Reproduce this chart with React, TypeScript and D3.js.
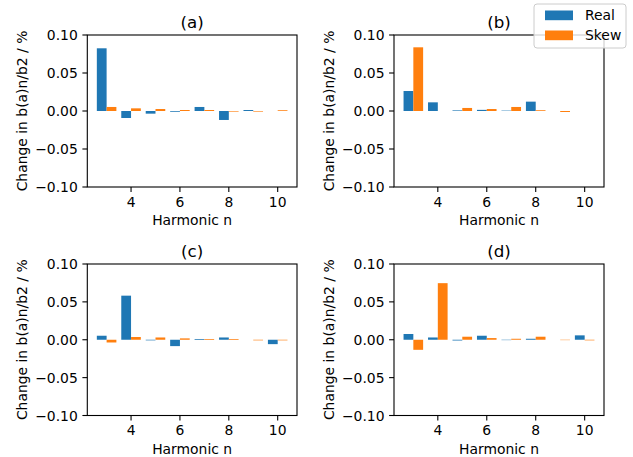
import React from "react";
import * as d3 from "d3";

const harmonics = [3, 4, 5, 6, 7, 8, 9, 10];
const seriesNames = ["Real", "Skew"];
const colors = ["#1f77b4", "#ff7f0e"];
const panelTitles = ["(a)", "(b)", "(c)", "(d)"];

const realA = [0.0825, -0.0092, -0.0035, -0.001, 0.0053, -0.0118, 0.0013, 0.0];
const skewA = [0.0053, 0.0035, 0.0026, 0.0013, 0.0013, -0.0008, -0.0008, 0.001];
const realB = [0.0263, 0.0114, 0.0008, 0.0015, 0.0005, 0.0123, 0.0, 0.0];
const skewB = [0.0838, 0.0, 0.004, 0.0026, 0.0053, 0.001, -0.0013, 0.0];
const realC = [0.0053, 0.0582, -0.0008, -0.0084, 0.001, 0.003, 0.0, -0.0058];
const skewC = [-0.0036, 0.0036, 0.003, 0.0018, 0.001, 0.001, -0.0008, -0.0008];
const realD = [0.0076, 0.003, -0.001, 0.0053, -0.0005, 0.0013, 0.0, 0.0058];
const skewD = [-0.0133, 0.0747, 0.004, 0.0022, 0.0013, 0.004, -0.0005, -0.0008];

const yTicks = [-0.1, -0.05, 0, 0.05, 0.1];
const xTicks = [4, 6, 8, 10];

const panelData = [
  [realA, skewA],
  [realB, skewB],
  [realC, skewC],
  [realD, skewD],
];

const FONT = "DejaVu Sans, sans-serif";
const FS = 13.9;

const boxes = [
  { x0: 87.3, x1: 297, y0: 35, y1: 187 },
  { x0: 394, x1: 604, y0: 35, y1: 187 },
  { x0: 87.3, x1: 297, y0: 264, y1: 415.5 },
  { x0: 394, x1: 604, y0: 264, y1: 415.5 },
];

function Panel({ idx }: { idx: number }) {
  const b = boxes[idx];
  const x = d3.scaleLinear().domain([2.21, 10.79]).range([b.x0, b.x1]);
  const y = d3.scaleLinear().domain([-0.1, 0.1]).range([b.y1, b.y0]);
  const bw = 0.4;
  const offsets = [-0.2, 0.2];
  const data = panelData[idx];
  const cx = (b.x0 + b.x1) / 2;
  const cy = (b.y0 + b.y1) / 2;
  return (
    <g>
      {data.map((vals, s) =>
        vals.map((v, i) => {
          const n = harmonics[i];
          const xl = x(n + offsets[s] - bw / 2);
          const xr = x(n + offsets[s] + bw / 2);
          const yt = y(Math.max(0, v));
          const yb = y(Math.min(0, v));
          return (
            <rect
              key={`${s}-${i}`}
              x={xl}
              y={yt}
              width={xr - xl}
              height={Math.max(0, yb - yt)}
              fill={colors[s]}
            />
          );
        })
      )}
      <rect
        x={b.x0}
        y={b.y0}
        width={b.x1 - b.x0}
        height={b.y1 - b.y0}
        fill="none"
        stroke="#000"
        strokeWidth={1.1}
      />
      {yTicks.map((t) => (
        <g key={t}>
          <line x1={b.x0 - 4.9} x2={b.x0} y1={y(t)} y2={y(t)} stroke="#000" strokeWidth={1.1} />
          <text
            x={b.x0 - 9.5}
            y={y(t)}
            dy="0.36em"
            textAnchor="end"
            fontFamily={FONT}
            fontSize={FS}
            fill="#000"
          >
            {(t < 0 ? "\u2212" : "") + d3.format(".2f")(Math.abs(t))}
          </text>
        </g>
      ))}
      {xTicks.map((t) => (
        <g key={t}>
          <line x1={x(t)} x2={x(t)} y1={b.y1} y2={b.y1 + 4.9} stroke="#000" strokeWidth={1.1} />
          <text
            x={x(t)}
            y={b.y1 + 19.5}
            textAnchor="middle"
            fontFamily={FONT}
            fontSize={FS}
            fill="#000"
          >
            {t}
          </text>
        </g>
      ))}
      <text x={cx} y={b.y1 + 38} textAnchor="middle" fontFamily={FONT} fontSize={FS} fill="#000">
        Harmonic n
      </text>
      <text
        transform={`translate(${b.x0 - 60},${cy}) rotate(-90)`}
        textAnchor="middle"
        fontFamily={FONT}
        fontSize={FS}
        fill="#000"
      >
        Change in b(a)n/b2 / %
      </text>
      <text x={cx} y={b.y0 - 7.5} textAnchor="middle" fontFamily={FONT} fontSize={16.7} fill="#000">
        {panelTitles[idx]}
      </text>
    </g>
  );
}

function Legend() {
  const lx = 534;
  const ly = 4;
  return (
    <g>
      <rect
        x={lx}
        y={ly}
        width={92}
        height={44}
        rx={3}
        fill="rgba(255,255,255,0.8)"
        stroke="#cccccc"
        strokeWidth={1}
      />
      {seriesNames.map((name, i) => (
        <g key={name}>
          <rect x={545} y={ly + 6.5 + i * 20} width={28} height={9.7} fill={colors[i]} />
          <text
            x={585}
            y={ly + 11.3 + i * 20}
            dy="0.36em"
            fontFamily={FONT}
            fontSize={FS}
            fill="#000"
          >
            {name}
          </text>
        </g>
      ))}
    </g>
  );
}

export default function App() {
  return (
    <svg
      width={633}
      height={457}
      style={{ position: "absolute", left: 0, top: 0, background: "#fff" }}
    >
      <rect width={633} height={457} fill="#fff" />
      {[0, 1, 2, 3].map((i) => (
        <Panel key={i} idx={i} />
      ))}
      <Legend />
    </svg>
  );
}
